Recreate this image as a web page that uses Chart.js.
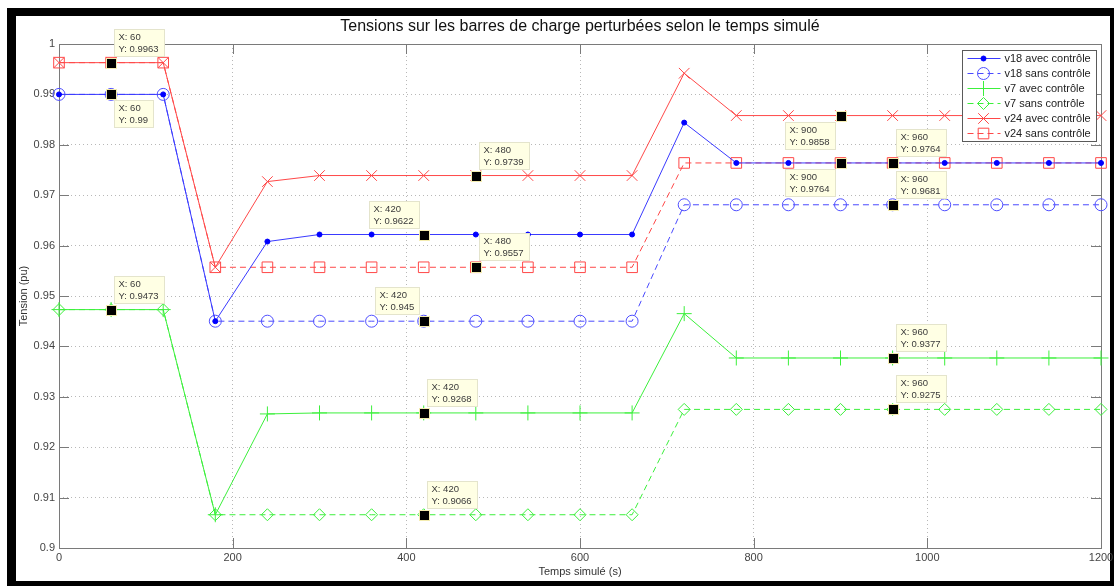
<!DOCTYPE html>
<html>
<head>
<meta charset="utf-8">
<script src="https://cdn.jsdelivr.net/npm/chart.js@4.4.0/dist/chart.umd.min.js"></script>
<style>
  html, body { margin: 0; padding: 0; background: #fff; }
  #wrap { width: 1114px; height: 586px; }
</style>
</head>
<body>
<div id="wrap"><canvas id="myChart" width="1114" height="586"></canvas></div>
<script>
// temps simulé (s)
var temps = [0, 60, 120, 180, 240, 300, 360, 420, 480, 540, 600, 660, 720, 780, 840, 900, 960, 1020, 1080, 1140, 1200];

// tensions (pu) aux barres 18, 7 et 24
var v18Avec = [0.99, 0.99, 0.99, 0.945, 0.9608, 0.9622, 0.9622, 0.9622, 0.9622, 0.9622, 0.9622, 0.9622, 0.9844, 0.9764, 0.9764, 0.9764, 0.9764, 0.9764, 0.9764, 0.9764, 0.9764];
var v18Sans = [0.99, 0.99, 0.99, 0.945, 0.945, 0.945, 0.945, 0.945, 0.945, 0.945, 0.945, 0.945, 0.9681, 0.9681, 0.9681, 0.9681, 0.9681, 0.9681, 0.9681, 0.9681, 0.9681];
var v7Avec = [0.9473, 0.9473, 0.9473, 0.9066, 0.9266, 0.9268, 0.9268, 0.9268, 0.9268, 0.9268, 0.9268, 0.9268, 0.9465, 0.9377, 0.9377, 0.9377, 0.9377, 0.9377, 0.9377, 0.9377, 0.9377];
var v7Sans = [0.9473, 0.9473, 0.9473, 0.9066, 0.9066, 0.9066, 0.9066, 0.9066, 0.9066, 0.9066, 0.9066, 0.9066, 0.9275, 0.9275, 0.9275, 0.9275, 0.9275, 0.9275, 0.9275, 0.9275, 0.9275];
var v24Avec = [0.9963, 0.9963, 0.9963, 0.9557, 0.9727, 0.9739, 0.9739, 0.9739, 0.9739, 0.9739, 0.9739, 0.9739, 0.9942, 0.9858, 0.9858, 0.9858, 0.9858, 0.9858, 0.9858, 0.9858, 0.9858];
var v24Sans = [0.9963, 0.9963, 0.9963, 0.9557, 0.9557, 0.9557, 0.9557, 0.9557, 0.9557, 0.9557, 0.9557, 0.9557, 0.9764, 0.9764, 0.9764, 0.9764, 0.9764, 0.9764, 0.9764, 0.9764, 0.9764];

var labels = ['v18 avec contrôle', 'v18 sans contrôle', 'v7 avec contrôle', 'v7 sans contrôle', 'v24 avec contrôle', 'v24 sans contrôle'];
var series = [v18Avec, v18Sans, v7Avec, v7Sans, v24Avec, v24Sans];

// curseurs de données : série, instant, côté de la bulle
var tipSeries = [4, 0, 2, 0, 4, 5, 1, 2, 3, 4, 0, 5, 1, 2, 3];
var tipTemps = [60, 60, 60, 420, 480, 480, 420, 420, 420, 900, 900, 960, 960, 960, 960];
var tipSide = ['ne', 'se', 'ne', 'nw', 'ne', 'ne', 'nw', 'ne', 'ne', 'sw', 'sw', 'ne', 'ne', 'ne', 'ne'];

var FONT = '"Liberation Sans", Arial, sans-serif';

// style de chaque courbe (couleur, tirets, marqueur)
var styles = [
  { color: '#3a3aff', dash: [], point: 'circle', radius: 2.5, fill: '#0000ff', border: '#0000ff' },
  { color: '#4a4aff', dash: [6, 4], point: 'circle', radius: 6, fill: 'rgba(0,0,0,0)', border: '#5050ff' },
  { color: '#3cf03c', dash: [], point: 'cross', radius: 7.5, fill: 'rgba(0,0,0,0)', border: '#3cf03c' },
  { color: '#3cf03c', dash: [6, 4], point: 'rectRot', radius: 6, fill: 'rgba(0,0,0,0)', border: '#3cf03c' },
  { color: '#ff4848', dash: [], point: 'crossRot', radius: 7.5, fill: 'rgba(0,0,0,0)', border: '#ff4848' },
  { color: '#ff4848', dash: [6, 4], point: 'rect', radius: 7.5, fill: 'rgba(0,0,0,0)', border: '#ff4848' }
];

var datasets = series.map(function (vals, k) {
  var s = styles[k];
  return {
    label: labels[k],
    data: temps.map(function (t, i) { return { x: t, y: vals[i] }; }),
    borderColor: s.color,
    borderWidth: 1,
    borderDash: s.dash,
    tension: 0,
    pointStyle: s.point,
    pointRadius: s.radius,
    pointHoverRadius: s.radius,
    pointBackgroundColor: s.fill,
    pointBorderColor: s.border,
    pointBorderWidth: 1,
    clip: false
  };
});

// fond blanc et cadre noir de la figure
var framePlugin = {
  id: 'frame',
  beforeDraw: function (chart) {
    var ctx = chart.ctx;
    ctx.save();
    ctx.fillStyle = '#ffffff';
    ctx.fillRect(0, 0, chart.width, chart.height);
    ctx.fillStyle = '#000000';
    ctx.fillRect(7, 8, chart.width - 7, chart.height - 8);
    ctx.fillStyle = '#ffffff';
    ctx.fillRect(16, 16, chart.width - 20, chart.height - 21);
    ctx.restore();
  }
};

// boîte des axes et graduations intérieures
var boxPlugin = {
  id: 'axesBox',
  beforeDatasetsDraw: function (chart) {
    var ctx = chart.ctx, a = chart.chartArea;
    var xs = chart.scales.x, ys = chart.scales.y;
    var tl = 10;
    ctx.save();
    ctx.strokeStyle = '#7a7a7a';
    ctx.lineWidth = 1;
    ctx.strokeRect(Math.round(a.left) + 0.5, Math.round(a.top) + 0.5, Math.round(a.right - a.left), Math.round(a.bottom - a.top));
    ctx.beginPath();
    xs.ticks.forEach(function (t) {
      var px = Math.round(xs.getPixelForValue(t.value)) + 0.5;
      ctx.moveTo(px, a.bottom); ctx.lineTo(px, a.bottom - tl);
      ctx.moveTo(px, a.top); ctx.lineTo(px, a.top + tl);
    });
    ys.ticks.forEach(function (t) {
      var py = Math.round(ys.getPixelForValue(t.value)) + 0.5;
      ctx.moveTo(a.left, py); ctx.lineTo(a.left + tl, py);
      ctx.moveTo(a.right, py); ctx.lineTo(a.right - tl, py);
    });
    ctx.stroke();
    ctx.restore();
  }
};

function fmt(v) {
  return String(Number(v.toFixed(4)));
}

// bulles des curseurs de données
var tipPlugin = {
  id: 'dataTips',
  afterDatasetsDraw: function (chart) {
    var ctx = chart.ctx;
    var xs = chart.scales.x, ys = chart.scales.y;
    ctx.save();
    ctx.font = '9.5px ' + FONT;
    ctx.textBaseline = 'middle';
    tipSeries.forEach(function (s, k) {
      var t = tipTemps[k];
      var v = series[s][temps.indexOf(t)];
      var px = xs.getPixelForValue(t), py = ys.getPixelForValue(v);
      var l1 = 'X: ' + t, l2 = 'Y: ' + fmt(v);
      var w = Math.ceil(Math.max(ctx.measureText(l1).width, ctx.measureText(l2).width)) + 9;
      var h = 27;
      var bx, by, side = tipSide[k];
      if (side === 'ne') { bx = px + 3; by = py - 7 - h; }
      else if (side === 'se') { bx = px + 3; by = py + 6; }
      else if (side === 'nw') { bx = px - 5 - w; by = py - 7 - h; }
      else { bx = px - 6 - w; by = py + 6; }
      bx = Math.round(bx) + 0.5; by = Math.round(by) + 0.5;
      ctx.fillStyle = '#ffffe4';
      ctx.strokeStyle = '#e4e4cc';
      ctx.lineWidth = 1;
      ctx.fillRect(bx, by, w, h);
      ctx.strokeRect(bx, by, w, h);
      ctx.fillStyle = '#3a3a3a';
      ctx.fillText(l1, bx + 4, by + 8);
      ctx.fillText(l2, bx + 4, by + 20);
      // marqueur du curseur
      ctx.fillStyle = '#f4ecb0';
      ctx.fillRect(Math.round(px) - 5, Math.round(py) - 5, 11, 11);
      ctx.fillStyle = '#000000';
      ctx.fillRect(Math.round(px) - 4, Math.round(py) - 4, 9, 9);
    });
    ctx.restore();
  }
};

// légende en haut à droite, dans les axes
var legendPlugin = {
  id: 'legendBox',
  afterDraw: function (chart) {
    var ctx = chart.ctx, a = chart.chartArea;
    var w = 134, h = 91;
    var x0 = Math.round(a.right - 5 - w) + 0.5, y0 = Math.round(a.top + 6) + 0.5;
    ctx.save();
    ctx.fillStyle = '#ffffff';
    ctx.fillRect(x0, y0, w, h);
    ctx.strokeStyle = '#5a5a5a';
    ctx.lineWidth = 1;
    ctx.strokeRect(x0, y0, w, h);
    ctx.font = '11px ' + FONT;
    ctx.textBaseline = 'middle';
    chart.data.datasets.forEach(function (ds, k) {
      var s = styles[k];
      var yy = y0 + 8 + k * 15;
      ctx.strokeStyle = s.color;
      ctx.setLineDash(s.dash);
      ctx.beginPath();
      ctx.moveTo(x0 + 5, yy);
      ctx.lineTo(x0 + 38, yy);
      ctx.stroke();
      ctx.setLineDash([]);
      ctx.fillStyle = s.fill;
      ctx.strokeStyle = s.border;
      Chart.helpers.drawPoint(ctx, { pointStyle: s.point, radius: s.radius, rotation: 0, borderWidth: 1 }, x0 + 21, yy);
      ctx.fillStyle = '#222222';
      ctx.fillText(ds.label, x0 + 42, yy + 0.5);
    });
    ctx.restore();
  }
};

var config = {
  type: 'line',
  data: { datasets: datasets },
  options: {
    responsive: false,
    animation: false,
    layout: { padding: { left: 16, top: 16, right: 13, bottom: 5 } },
    plugins: {
      legend: { display: false },
      tooltip: { enabled: false },
      title: {
        display: true,
        fullSize: false,
        text: 'Tensions sur les barres de charge perturbées selon le temps simulé',
        color: '#111111',
        font: { family: FONT, size: 16, weight: 'normal', lineHeight: 1 },
        padding: { top: 3, bottom: 9 }
      }
    },
    scales: {
      x: {
        type: 'linear',
        min: 0,
        max: 1200,
        ticks: {
          stepSize: 200,
          color: '#444444',
          padding: 3,
          maxRotation: 0,
          font: { family: FONT, size: 11 },
          callback: function (v) { return String(v); }
        },
        grid: { color: '#b8b8b8', drawTicks: false, lineWidth: 1 },
        border: { display: false, dash: [1, 3] },
        title: {
          display: true,
          text: 'Temps simulé (s)',
          color: '#333333',
          font: { family: FONT, size: 11 },
          padding: { top: 0, bottom: 2 }
        },
        afterFit: function (scale) {
          scale.height = 33;
          scale.paddingLeft = 0;
          scale.paddingRight = 0;
        }
      },
      y: {
        type: 'linear',
        min: 0.9,
        max: 1,
        ticks: {
          stepSize: 0.01,
          color: '#444444',
          padding: 4,
          font: { family: FONT, size: 11 },
          callback: function (v) { return String(Number(v.toFixed(2))); }
        },
        grid: { color: '#b8b8b8', drawTicks: false, lineWidth: 1 },
        border: { display: false, dash: [1, 3] },
        title: {
          display: true,
          text: 'Tension (pu)',
          color: '#333333',
          font: { family: FONT, size: 11 },
          padding: { top: 1, bottom: 0 }
        },
        afterFit: function (scale) {
          scale.width = 43;
          scale.paddingTop = 0;
          scale.paddingBottom = 0;
        }
      }
    }
  },
  plugins: [framePlugin, boxPlugin, tipPlugin, legendPlugin]
};

var myChart = new Chart(document.getElementById('myChart'), config);
</script>
</body>
</html>
